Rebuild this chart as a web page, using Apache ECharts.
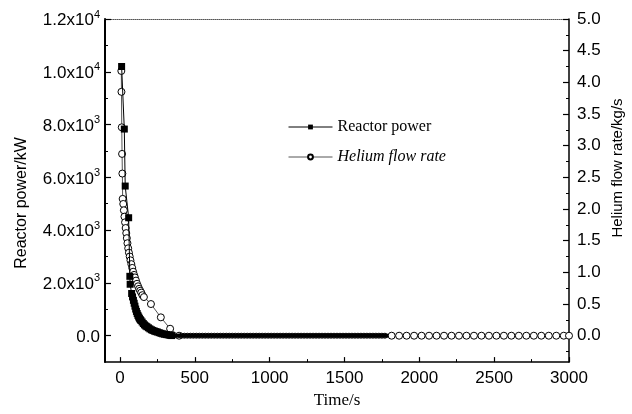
<!DOCTYPE html>
<html><head><meta charset="utf-8">
<script src="https://cdn.jsdelivr.net/npm/echarts@6/dist/echarts.min.js"></script>
<style>html,body{margin:0;padding:0;background:#fff}#c{width:632px;height:414px}</style>
</head><body><div id="c"></div>
<script>
// Reactor power (kW) vs time (s)
const powerTime = [11, 29, 35, 58, 66, 68, 78, 84, 90, 95, 100, 105, 110, 115, 120, 125, 130, 135, 140, 148, 156, 164, 172, 180, 190, 200, 210, 220, 230, 240, 250, 262, 274, 286, 298, 310, 322, 334, 346,
  360, 380, 400, 420, 440, 460, 480, 500, 520, 540, 560, 580, 600, 620, 640, 660, 680, 700, 720, 740, 760, 780, 800, 820, 840, 860, 880, 900, 920, 940, 960, 980, 1000,
  1020, 1040, 1060, 1080, 1100, 1120, 1140, 1160, 1180, 1200, 1220, 1240, 1260, 1280, 1300, 1320, 1340, 1360, 1380, 1400, 1420, 1440, 1460, 1480, 1500,
  1520, 1540, 1560, 1580, 1600, 1620, 1640, 1660, 1680, 1700, 1720, 1740, 1760, 1780];
const powerValue = [10200, 7830, 5670, 4470, 2250, 1950, 1600, 1470, 1340, 1230, 1120, 1010, 920, 840, 770, 710, 660, 615, 575, 520, 460, 410, 370, 340, 300, 260, 225, 200, 175, 155, 140, 115, 90, 70, 55, 42, 32, 15, 5,
  0, 0, 0, 0, 0, 0, 0, 0, 0, 0, 0, 0, 0, 0, 0, 0, 0, 0, 0, 0, 0, 0, 0, 0, 0, 0, 0, 0, 0, 0, 0, 0, 0,
  0, 0, 0, 0, 0, 0, 0, 0, 0, 0, 0, 0, 0, 0, 0, 0, 0, 0, 0, 0, 0, 0, 0, 0, 0,
  0, 0, 0, 0, 0, 0, 0, 0, 0, 0, 0, 0, 0, 0];

// Helium flow rate (kg/s) vs time (s)
const heliumTime = [9, 10, 12, 14, 16, 18, 22, 26, 30, 34, 38, 42, 46, 50, 55, 60, 65, 70, 76, 82, 88, 94, 100, 107, 114, 121, 128, 135, 142, 150, 160, 207, 273, 335, 395,
  410, 430, 450, 470, 490, 510, 530, 550, 570, 590, 610, 630, 650, 670, 690, 710, 730, 750, 770, 790, 810, 830, 850, 870, 890, 910, 930, 950, 970, 990,
  1010, 1030, 1050, 1070, 1090, 1110, 1130, 1150, 1170, 1190, 1210, 1230, 1250, 1270, 1290, 1310, 1330, 1350, 1370, 1390, 1410, 1430, 1450, 1470, 1490,
  1510, 1530, 1550, 1570, 1590, 1610, 1630, 1650, 1670, 1690, 1710, 1730, 1750, 1770,
  1815, 1865, 1915, 1965, 2015, 2065, 2115, 2165, 2215, 2265, 2315, 2365, 2415, 2465, 2515, 2565, 2615, 2665, 2715, 2765, 2815, 2865, 2915, 2965, 3000];
const heliumValue = [4.18, 3.85, 3.29, 2.87, 2.56, 2.16, 2.08, 1.98, 1.88, 1.79, 1.70, 1.62, 1.54, 1.46, 1.38, 1.31, 1.25, 1.19, 1.13, 1.07, 1.01, 0.96, 0.92, 0.87, 0.82, 0.78, 0.74, 0.71, 0.68, 0.64, 0.61, 0.50, 0.29, 0.11, 0.0,
  0, 0, 0, 0, 0, 0, 0, 0, 0, 0, 0, 0, 0, 0, 0, 0, 0, 0, 0, 0, 0, 0, 0, 0, 0, 0, 0, 0, 0, 0,
  0, 0, 0, 0, 0, 0, 0, 0, 0, 0, 0, 0, 0, 0, 0, 0, 0, 0, 0, 0, 0, 0, 0, 0, 0,
  0, 0, 0, 0, 0, 0, 0, 0, 0, 0, 0, 0, 0, 0,
  0, 0, 0, 0, 0, 0, 0, 0, 0, 0, 0, 0, 0, 0, 0, 0, 0, 0, 0, 0, 0, 0, 0, 0, 0];

const xTicks = [0, 500, 1000, 1500, 2000, 2500, 3000];
const xMinorTicks = [250, 750, 1250, 1750, 2250, 2750];
const yLeftTicks = [0, 2000, 4000, 6000, 8000, 10000, 12000];
const yLeftMinorTicks = [1000, 3000, 5000, 7000, 9000, 11000];
const yRightTicks = [0, 0.5, 1, 1.5, 2, 2.5, 3, 3.5, 4, 4.5, 5];
const yRightMinorTicks = [-0.25, 0.25, 0.75, 1.25, 1.75, 2.25, 2.75, 3.25, 3.75, 4.25, 4.75];

const sans = '"Liberation Sans", Arial, sans-serif';
const serif = '"Liberation Serif", "Times New Roman", serif';

function leftLabel(v) {
  if (v === 0) return '{a|0.0}';
  const e = Math.floor(Math.log10(v) + 1e-9);
  const m = v / Math.pow(10, e);
  return '{a|' + m.toFixed(1) + 'x10}{s|' + e + '}';
}

const chart = echarts.init(document.getElementById('c'), null, {renderer: 'canvas'});
const blackLine = {show: true, onZero: false, lineStyle: {color: '#000', width: 1.5}};
const hiddenLine = {show: false, onZero: false};

chart.setOption({
  animation: false,
  backgroundColor: '#fff',
  grid: {left: 105, right: 63, top: 19, bottom: 49},
  xAxis: [
    {type: 'value', position: 'bottom', min: -100, max: 3000,
     axisLine: blackLine,
     axisTick: {show: true, inside: true, length: 5, customValues: xTicks, lineStyle: {color: '#000', width: 1.2}},
     axisLabel: {customValues: xTicks, formatter: v => String(v), color: '#000', fontSize: 17, fontFamily: sans, margin: 8},
     splitLine: {show: false},
     name: 'Time/s', nameLocation: 'middle', nameGap: 26,
     nameTextStyle: {fontFamily: serif, fontSize: 17, color: '#000', verticalAlign: 'top'}},
    {type: 'value', position: 'bottom', min: -100, max: 3000,
     axisLine: hiddenLine,
     axisTick: {show: true, inside: true, length: 3, customValues: xMinorTicks, lineStyle: {color: '#000', width: 1}},
     axisLabel: {show: false}, splitLine: {show: false}},
    {type: 'value', position: 'top', min: -100, max: 3000,
     axisLine: {show: true, onZero: false, lineStyle: {color: '#555', width: 1, type: 'dotted'}},
     axisTick: {show: false}, axisLabel: {show: false}, splitLine: {show: false}}
  ],
  yAxis: [
    {type: 'value', position: 'left', min: -1000, max: 12000,
     axisLine: {show: true, onZero: false, lineStyle: {color: '#000', width: 2}},
     axisTick: {show: true, inside: true, length: 6, customValues: yLeftTicks, lineStyle: {color: '#000', width: 1.2}},
     axisLabel: {customValues: yLeftTicks, formatter: leftLabel, margin: 5,
       rich: {a: {fontSize: 17, fontFamily: sans, color: '#000', lineHeight: 20, verticalAlign: 'bottom'},
              s: {fontSize: 11, fontFamily: sans, color: '#000', lineHeight: 20, verticalAlign: 'top'}}},
     splitLine: {show: false}},
    {type: 'value', position: 'right', min: -5 / 12, max: 5,
     axisLine: blackLine,
     axisTick: {show: true, inside: true, length: 6, customValues: yRightTicks, lineStyle: {color: '#000', width: 1.2}},
     axisLabel: {customValues: yRightTicks, formatter: v => v.toFixed(1), color: '#000', fontSize: 17, fontFamily: sans, margin: 8},
     splitLine: {show: false}},
    {type: 'value', position: 'left', min: -1000, max: 12000,
     axisLine: hiddenLine,
     axisTick: {show: true, inside: true, length: 3, customValues: yLeftMinorTicks, lineStyle: {color: '#000', width: 1}},
     axisLabel: {show: false}, splitLine: {show: false}},
    {type: 'value', position: 'right', min: -5 / 12, max: 5,
     axisLine: hiddenLine,
     axisTick: {show: true, inside: true, length: 3, customValues: yRightMinorTicks, lineStyle: {color: '#000', width: 1}},
     axisLabel: {show: false}, splitLine: {show: false}}
  ],
  legend: {
    orient: 'vertical', left: 283, top: 114, itemWidth: 44, itemHeight: 6, itemGap: 14,
    lineStyle: {width: 1},
    data: [
      {name: 'Reactor power', textStyle: {fontFamily: serif, fontSize: 16, color: '#000'}},
      {name: 'Helium flow rate', textStyle: {fontFamily: serif, fontSize: 16, fontStyle: 'italic', color: '#000'}}
    ]
  },
  graphic: [
    {type: 'text', x: 22, y: 203, rotation: Math.PI / 2,
     style: {text: 'Reactor power/kW', font: '16px ' + sans, fill: '#000', align: 'center', verticalAlign: 'middle'}},
    {type: 'text', x: 618, y: 168, rotation: Math.PI / 2,
     style: {text: 'Helium flow rate/kg/s', font: '15px ' + sans, fill: '#000', align: 'center', verticalAlign: 'middle'}}
  ],
  series: [
    {name: 'Helium flow rate', type: 'line', xAxisIndex: 0, yAxisIndex: 1,
     data: heliumTime.map((t, i) => [t, heliumValue[i]]),
     symbol: 'circle',
     symbolSize: v => (v[0] > 400 && v[0] < 1790 ? 5 : 7),
     lineStyle: {color: '#555', width: 1},
     itemStyle: {color: '#fff', borderColor: '#000', borderWidth: 1},
     z: 2},
    {name: 'Reactor power', type: 'line', xAxisIndex: 0, yAxisIndex: 0,
     data: powerTime.map((t, i) => [t, powerValue[i]]),
     symbol: 'rect',
     symbolSize: v => (v[0] >= 355 ? 4 : 7),
     lineStyle: {color: '#000', width: 1},
     itemStyle: {color: '#000', borderColor: '#000', borderWidth: 0},
     z: 3}
  ]
});
</script>
</body></html>
